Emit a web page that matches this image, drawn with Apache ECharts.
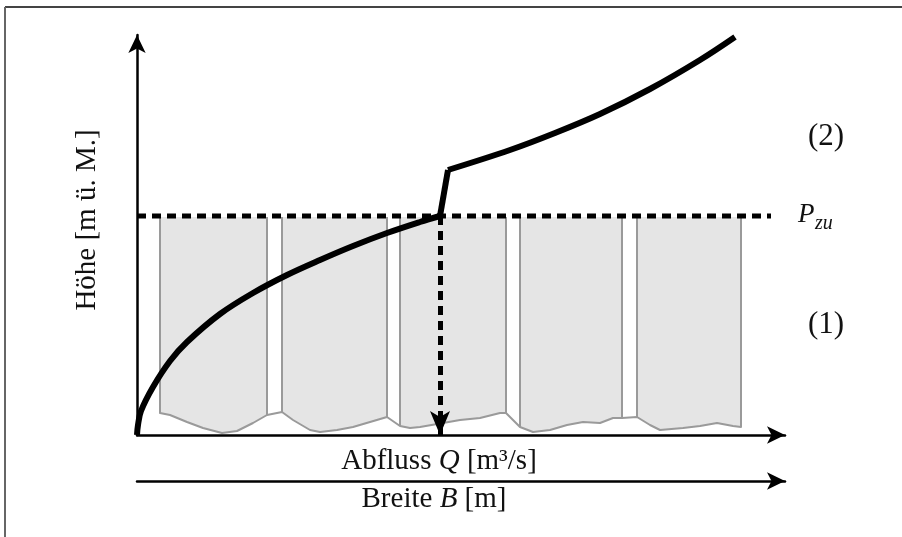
<!DOCTYPE html>
<html>
<head>
<meta charset="utf-8">
<script src="https://cdn.jsdelivr.net/npm/echarts@6.0.0/dist/echarts.min.js"></script>
<style>
  html, body { margin: 0; padding: 0; background: #fff; }
  #chart { width: 902px; height: 537px; }
</style>
</head>
<body>
<div id="chart"></div>
<script>
// schematic units: x = distance from the origin to the right, y = height above the bed line

// rating curve, lower part (below P_zu)
var curveLow = [[0,0],[1,10],[4,24],[16,48],[33,74],[50,93],[83,121],[116,142],[150,160],
  [183,175],[216,189],[250,202],[283,213],[303,219]];
// jump at the overflow level
var curveJump = [[303,219],[311,265]];
// upper part (above the weir)
var curveHigh = [[311,265],[373,285],[418,302],[463,321],[513,346],[563,375],[598,398]];

var pzuLevel = 219;       // P_zu
var qzu = 303;            // Q_zu
var dashEnd = 634;

// cross section (weir fields) outline, top left -> bottom profile -> top right
var bedOutline = [[23,218],[23,22],[33,20],[50,13],[66,7],[85,2],[100,4],[116,12],[130,20],
  [145,23],[156,15],[173,5],[183,3],[200,5],[216,8],[233,13],[250,18],
  [263,9],[273,7],[283,8],[306,12],[323,15],[343,17],[363,22],[369,22],
  [383,8],[396,3],[413,5],[430,10],[446,13],[463,12],[476,17],[485,17],
  [500,18],[513,10],[523,5],[546,7],[563,9],[580,12],[596,9],[604,8],[604,218]];
// pillars between the fields
var pillarX = [[130,145],[250,263],[369,383],[485,500]];
var pillarBottom = [[20,23],[18,9],[22,8],[17,18]];
var blockTop = 218;

var chart = echarts.init(document.getElementById('chart'));

var serif = 'Liberation Serif';

function axisLine(){
  return {
    show: true,
    onZero: false,
    symbol: ['none', 'arrow'],
    symbolSize: [13, 18],
    lineStyle: { color: '#000', width: 2.5 }
  };
}

function crossSection(params, api){
  var kids = [];
  var poly = bedOutline.map(function(p){ return api.coord(p); });
  kids.push({ type: 'polygon', shape: { points: poly }, style: { fill: '#e5e5e5', stroke: null } });
  for (var i = 0; i < pillarX.length; i++) {
    var a = api.coord([pillarX[i][0], blockTop]);
    var b = api.coord([pillarX[i][0], pillarBottom[i][0]]);
    var c = api.coord([pillarX[i][1], pillarBottom[i][1]]);
    var d = api.coord([pillarX[i][1], blockTop]);
    kids.push({ type: 'polygon', shape: { points: [a, b, c, d] }, style: { fill: '#fff', stroke: null } });
    kids.push({ type: 'polyline', shape: { points: [a, b] }, style: { stroke: '#9a9a9a', lineWidth: 2, fill: null } });
    kids.push({ type: 'polyline', shape: { points: [d, c] }, style: { stroke: '#9a9a9a', lineWidth: 2, fill: null } });
  }
  kids.push({ type: 'polyline', shape: { points: poly }, style: { stroke: '#9a9a9a', lineWidth: 2, fill: null, lineJoin: 'round' } });
  return { type: 'group', children: kids };
}

var option = {
  animation: false,
  backgroundColor: '#fff',
  grid: { left: 137, top: 35, width: 648, height: 400 },
  xAxis: [
    { type: 'value', min: 0, max: 648, position: 'bottom',
      axisLine: axisLine(), axisTick: { show: false }, axisLabel: { show: false }, splitLine: { show: false } },
    { type: 'value', min: 0, max: 648, position: 'bottom', offset: 46,
      axisLine: axisLine(), axisTick: { show: false }, axisLabel: { show: false }, splitLine: { show: false } }
  ],
  yAxis: { type: 'value', min: 0, max: 400,
    axisLine: axisLine(), axisTick: { show: false }, axisLabel: { show: false }, splitLine: { show: false } },
  series: [
    { type: 'custom', renderItem: crossSection, data: [[0, 0]], silent: true, clip: false, z: 1 },
    { type: 'line', data: [[0, pzuLevel], [dashEnd, pzuLevel]], symbol: 'none', silent: true, z: 3,
      lineStyle: { color: '#000', width: 5, type: [9, 6], cap: 'butt' } },
    { type: 'line', data: [], symbol: 'none', silent: true, z: 3,
      markLine: { silent: true, symbol: ['none', 'arrow'], symbolSize: [15, 24], label: { show: false },
        lineStyle: { color: '#000', width: 5, type: [9, 6] },
        data: [[{ coord: [qzu, pzuLevel] }, { coord: [qzu, 0] }]] } },
    { type: 'line', data: curveLow, smooth: 0.35, symbol: 'none', silent: true, z: 4,
      lineStyle: { color: '#000', width: 6, join: 'round' } },
    { type: 'line', data: curveJump, symbol: 'none', silent: true, z: 4,
      lineStyle: { color: '#000', width: 6, join: 'round' } },
    { type: 'line', data: curveHigh, smooth: 0.35, symbol: 'none', silent: true, z: 4, clip: false,
      lineStyle: { color: '#000', width: 6, join: 'round' } }
  ],
  graphic: [
    { type: 'line', shape: { x1: 5, y1: 7, x2: 902, y2: 7 }, style: { stroke: '#444', lineWidth: 2 } },
    { type: 'line', shape: { x1: 5, y1: 7, x2: 5, y2: 537 }, style: { stroke: '#666', lineWidth: 2 } },
    { type: 'text', x: 87, y: 220, rotation: Math.PI / 2,
      style: { text: 'Höhe [m ü. M.]', font: '29px "' + serif + '"', fill: '#111', textAlign: 'center', textVerticalAlign: 'middle' } },
    { type: 'text', x: 439, y: 461,
      style: { rich: { a: { fontFamily: serif, fontSize: 29, fill: '#111' }, i: { fontFamily: serif, fontSize: 29, fontStyle: 'italic', fill: '#111' } },
        text: '{a|Abfluss }{i|Q}{a| [m³/s]}', textAlign: 'center', textVerticalAlign: 'middle' } },
    { type: 'text', x: 434, y: 499,
      style: { rich: { a: { fontFamily: serif, fontSize: 29, fill: '#111' }, i: { fontFamily: serif, fontSize: 29, fontStyle: 'italic', fill: '#111' } },
        text: '{a|Breite }{i|B}{a| [m]}', textAlign: 'center', textVerticalAlign: 'middle' } },
    { type: 'text', x: 826, y: 137, style: { text: '(2)', font: '31px "' + serif + '"', fill: '#111', textAlign: 'center', textVerticalAlign: 'middle' } },
    { type: 'text', x: 826, y: 325, style: { text: '(1)', font: '31px "' + serif + '"', fill: '#111', textAlign: 'center', textVerticalAlign: 'middle' } },
    { type: 'text', x: 798, y: 215, style: { text: 'P', font: 'italic 27px "' + serif + '"', fill: '#111', textVerticalAlign: 'middle' } },
    { type: 'text', x: 815, y: 224, style: { text: 'zu', font: 'italic 20px "' + serif + '"', fill: '#111', textVerticalAlign: 'middle' } },
    { type: 'text', x: 448, y: 393, style: { text: 'Q', font: 'italic 26px "' + serif + '"', fill: '#111', textVerticalAlign: 'middle' } },
    { type: 'text', x: 467, y: 400, style: { text: 'zu', font: 'italic 20px "' + serif + '"', fill: '#111', textVerticalAlign: 'middle' } }
  ]
};

chart.setOption(option);
</script>
</body>
</html>
